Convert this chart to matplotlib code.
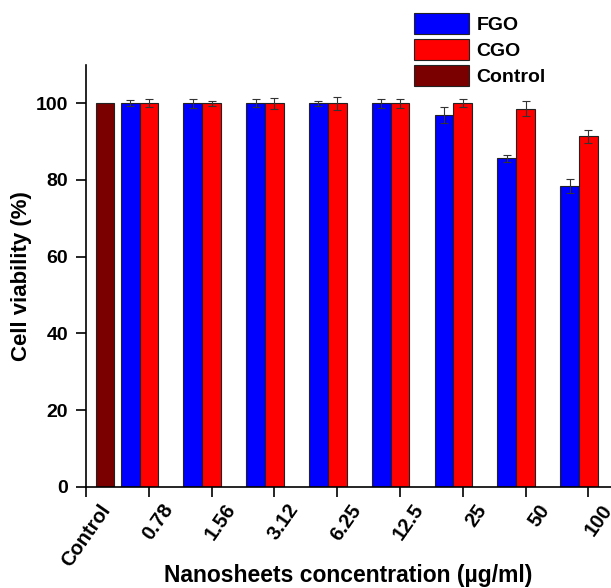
import numpy as np
import matplotlib
matplotlib.use('Agg')
import matplotlib.pyplot as plt
import matplotlib.transforms as mtransforms

plt.rcParams['font.family'] = ['Liberation Sans', 'DejaVu Sans']
plt.rcParams['font.weight'] = 'bold'

categories = ['Control', '0.78', '1.56', '3.12', '6.25', '12.5', '25', '50', '100']
fgo = [np.nan, 100, 100, 100, 100, 100, 96.9, 85.6, 78.4]
fgo_err = [np.nan, 0.8, 1.2, 1.0, 0.6, 1.2, 2.0, 1.0, 1.8]
cgo = [np.nan, 100, 100, 100, 100, 100, 100, 98.6, 91.4]
cgo_err = [np.nan, 1.1, 0.6, 1.4, 1.7, 1.2, 1.1, 1.9, 1.7]
control = [100, np.nan, np.nan, np.nan, np.nan, np.nan, np.nan, np.nan, np.nan]

x = np.arange(len(categories))
w = 0.30

fig = plt.figure(figsize=(6.11, 5.88), dpi=100)
ax = fig.add_axes([0.141, 0.172, 0.859, 0.7177])

err_kw = dict(ecolor='#333333', elinewidth=0.8, capsize=3, capthick=0.8)
ax.bar(x - w, fgo, w, yerr=fgo_err, color='#0000FF', edgecolor='#222222',
       linewidth=0.8, label='FGO', error_kw=err_kw)
ax.bar(x, cgo, w, yerr=cgo_err, color='#FF0000', edgecolor='#222222',
       linewidth=0.8, label='CGO', error_kw=err_kw)
ax.bar(x + w, control, w, color='#7A0000', edgecolor='#222222',
       linewidth=0.8, label='Control')

ax.set_xlim(0, 8.36)
ax.set_ylim(0, 110)
ax.set_yticks([0, 20, 40, 60, 80, 100])
ax.set_xticks(x)
ax.set_xticklabels(categories, rotation=55, ha='right', va='center',
                   rotation_mode='anchor', fontsize=14.5, fontweight='bold')
ax.tick_params(axis='y', labelsize=14, direction='out', length=7, width=1.2, pad=6)
ax.tick_params(axis='x', direction='out', length=7, width=1.2, pad=4)
for lbl in ax.get_yticklabels():
    lbl.set_fontweight('bold')
shift = mtransforms.ScaledTranslation(0.20, -0.04, fig.dpi_scale_trans)
for lbl in ax.get_xticklabels():
    lbl.set_transform(lbl.get_transform() + shift)

ax.spines['top'].set_visible(False)
ax.spines['right'].set_visible(False)
ax.spines['left'].set_linewidth(1.2)
ax.spines['bottom'].set_linewidth(1.2)

ax.set_ylabel('Cell viability (%)', fontsize=16, fontweight='bold')
ax.yaxis.set_label_coords(-0.103, 0.5)
ax.set_xlabel('Nanosheets concentration (µg/ml)', fontsize=16.5, fontweight='bold',
              va='center')
ax.xaxis.set_label_coords(0.5, -0.211)

fig.legend(loc='upper left', bbox_to_anchor=(404 / 611, 1 - 3 / 588),
           frameon=False, handlelength=2.83, handleheight=1.29,
           handletextpad=0.4, labelspacing=0.26, borderpad=0,
           prop={'weight': 'bold', 'size': 14})

fig.savefig('out.png', dpi=100)
